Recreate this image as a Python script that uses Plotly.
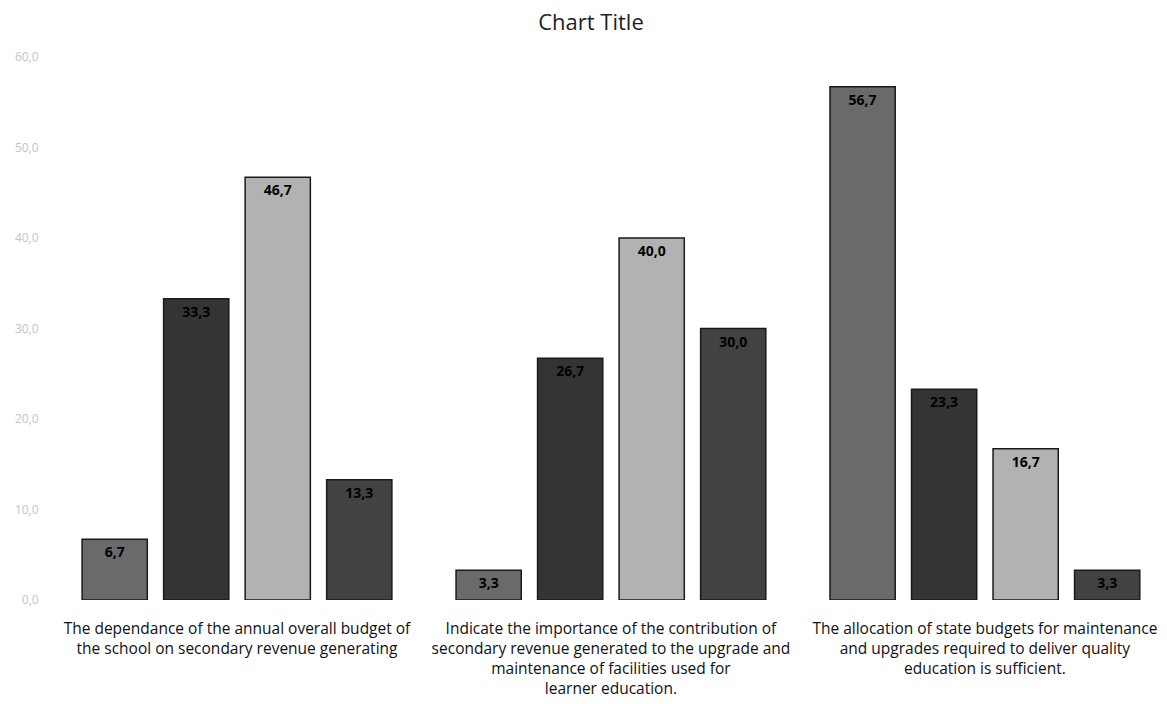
import plotly.graph_objects as go

categories = [
    "The dependance of the annual overall budget of<br>the school on secondary revenue generating",
    "Indicate the importance of the contribution of<br>secondary revenue generated to the upgrade and<br>maintenance of facilities used for<br>learner education.",
    "The allocation of state budgets for maintenance<br>and upgrades required to deliver quality<br>education is sufficient.",
]
series_names = ["Series 1", "Series 2", "Series 3", "Series 4"]
series_values = [
    [6.7, 3.3, 56.7],
    [33.3, 26.7, 23.3],
    [46.7, 40.0, 16.7],
    [13.3, 30.0, 3.3],
]
series_colors = ["#6a6a6a", "#343434", "#b2b2b2", "#424242"]
y_ticks = [0, 10, 20, 30, 40, 50, 60]

x_pos = list(range(len(categories)))

fig = go.Figure()
for name, vals, col in zip(series_names, series_values, series_colors):
    fig.add_trace(go.Bar(
        x=x_pos, y=vals, name=name,
        marker=dict(color=col, line=dict(color="#1a1a1a", width=1.5)),
        texttemplate="%{y:.1f}", textposition="inside", insidetextanchor="end",
        textangle=0,
        textfont=dict(color="#000000", size=14, family="Open Sans", weight="bold"),
        cliponaxis=False,
    ))

fig.update_layout(
    width=1159, height=690,
    separators=",.",
    barmode="group", bargap=0.128, bargroupgap=0.2,
    showlegend=False,
    plot_bgcolor="white", paper_bgcolor="white",
    margin=dict(l=42, r=0, t=49, b=98),
    uniformtext=dict(mode="show", minsize=14),
    title=dict(text="Chart Title", x=0.503, xref="container", xanchor="center",
               y=0.99, yref="container", yanchor="top",
               font=dict(family="Open Sans", size=22, color="#1e1e1e")),
    font=dict(family="Open Sans"),
)
fig.update_xaxes(
    range=[-0.5, 2.487], tickvals=x_pos, ticktext=categories,
    showgrid=False, showline=False, zeroline=False, automargin=False,
    ticks="outside", ticklen=14, tickcolor="rgba(0,0,0,0)",
    tickfont=dict(family="Open Sans", size=15.5, color="#111111"),
)
fig.update_yaxes(
    range=[0, 60], tickvals=y_ticks, tickformat=".1f",
    showgrid=False, showline=False, zeroline=False, automargin=False,
    tickfont=dict(family="Open Sans", size=12, color="#c4c4c4"),
    ticks="outside", ticklen=8, tickcolor="rgba(0,0,0,0)",
)

fig.write_html("out.html")
